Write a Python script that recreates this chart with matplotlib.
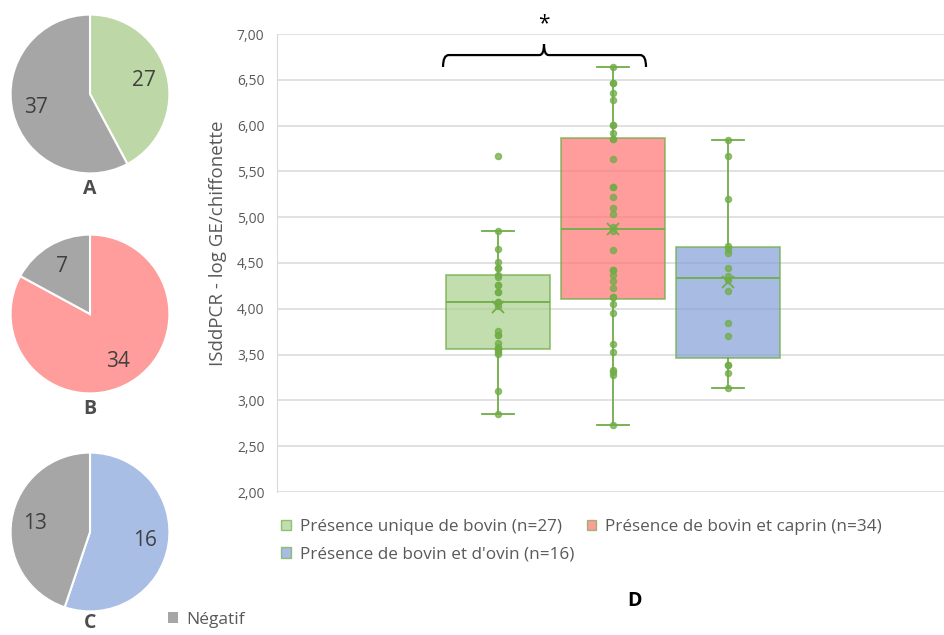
import numpy as np
import matplotlib.pyplot as plt
from matplotlib.patches import Patch, PathPatch
from matplotlib.path import Path

plt.rcParams['font.family'] = ['Open Sans', 'DejaVu Sans']

# pies A, B, C : positive count / negative count
pie_names = ['A', 'B', 'C']
pie_pos = [27, 34, 16]
pie_neg = [37, 7, 13]
pie_colors = ['#BDD8A6', '#FF9C9C', '#A9BEE5']
neg_color = '#A6A6A6'

# box plot D (log GE/chiffonette)
series_names = ['Présence unique de bovin (n=27)',
                'Présence de bovin et caprin (n=34)',
                "Présence de bovin et d'ovin (n=16)"]
bovin = [2.85, 3.10, 3.51, 3.53, 3.56, 3.56, 3.56, 3.58, 3.63, 3.71, 3.71,
         3.76, 4.03, 4.07, 4.07, 4.18, 4.18, 4.26, 4.26, 4.35, 4.37, 4.45,
         4.45, 4.51, 4.65, 4.85, 5.67]
bovin_caprin = [2.73, 3.28, 3.31, 3.33, 3.53, 3.62, 3.95, 4.05, 4.13, 4.13,
                4.23, 4.30, 4.37, 4.42, 4.42, 4.64, 4.85, 4.89, 5.04, 5.10,
                5.22, 5.33, 5.33, 5.63, 5.85, 5.85, 5.92, 6.01, 6.01, 6.28,
                6.36, 6.47, 6.47, 6.64]
bovin_ovin = [3.13, 3.30, 3.39, 3.39, 3.70, 3.84, 4.19, 4.31, 4.36, 4.45,
              4.61, 4.65, 4.69, 5.20, 5.67, 5.84]
box_colors = ['#A9D18E', '#FF7373', '#839FD8']
edge_green = '#70AD47'
yticks = [2.0, 2.5, 3.0, 3.5, 4.0, 4.5, 5.0, 5.5, 6.0, 6.5, 7.0]

W, H = 945, 635
fig = plt.figure(figsize=(W / 100, H / 100), dpi=100)
txt = '#404040'

# ---- pies
pie_centers = [(90, 94), (90, 314), (90, 532)]
for (cx, cy), name, p, n, col in zip(pie_centers, pie_names, pie_pos, pie_neg, pie_colors):
    r = 81
    ax = fig.add_axes([(cx - r) / W, 1 - (cy + r) / H, 2 * r / W, 2 * r / H])
    tot = p + n
    ax.pie([p, n], colors=[col, neg_color], startangle=90, counterclock=False,
           radius=1, autopct=lambda v, t=tot: f'{v * t / 100:.0f}', pctdistance=0.7,
           wedgeprops=dict(edgecolor='white', linewidth=1.5),
           textprops=dict(fontsize=15, color=txt))
    ax.set_xlim(-1.02, 1.02)
    ax.set_ylim(-1.02, 1.02)
    fig.text(cx / W, 1 - min(cy + r + 14, 623) / H, name, ha='center', va='center',
             fontsize=14, fontweight='bold', color='#4D4D4D')

fig.legend(handles=[Patch(facecolor=neg_color, edgecolor='none', label='Négatif')],
           loc='center left', bbox_to_anchor=(152 / W, 1 - 620 / H), frameon=False,
           fontsize=12.5, labelcolor='#595959', handlelength=0.6, handleheight=0.6,
           handletextpad=0.45)

# ---- box plot
ax = fig.add_axes([277 / W, 1 - 492 / H, (W - 277) / W, (492 - 34) / H])
data = [bovin, bovin_caprin, bovin_ovin]
positions = [1, 2, 3]
stats = []
for d in data:
    d = np.array(sorted(d))
    q1, med, q3 = np.percentile(d, [25, 50, 75], method='weibull')
    iqr = q3 - q1
    lo = d[d >= q1 - 1.5 * iqr].min()
    hi = d[d <= q3 + 1.5 * iqr].max()
    stats.append(dict(med=med, q1=q1, q3=q3, whislo=lo, whishi=hi, mean=d.mean(), fliers=[]))

bp = ax.bxp(stats, positions=positions, widths=0.905, patch_artist=True,
            showfliers=False, showmeans=False, capwidths=0.27,
            boxprops=dict(edgecolor=edge_green, linewidth=1.3),
            medianprops=dict(color=edge_green, linewidth=1.3),
            whiskerprops=dict(color=edge_green, linewidth=1.3),
            capprops=dict(color=edge_green, linewidth=1.3))
for patch, c in zip(bp['boxes'], box_colors):
    patch.set_facecolor(c)
    patch.set_alpha(0.7)
    patch.set_edgecolor(edge_green)
    patch.set_zorder(2)

for x, d, s in zip(positions, data, stats):
    ax.plot([x] * len(d), d, 'o', color=edge_green, ms=4.4, alpha=0.75, zorder=4)
    ax.plot([x], [s['mean']], 'x', color=edge_green, ms=9, mew=1.3, zorder=4)

ax.set_xlim(2 - (613 - 277) / 115, 2 + (W - 613) / 115)
ax.set_ylim(2, 7)
ax.set_yticks(yticks)
ax.set_yticklabels([f'{v:.2f}'.replace('.', ',') for v in yticks])
ax.set_xticks([])
ax.tick_params(axis='y', length=0, pad=9, labelsize=10, labelcolor='#595959')
ax.grid(axis='y', color='#D9D9D9', linewidth=1.1, zorder=0)
ax.set_axisbelow(True)
for sp in ['top', 'right', 'bottom']:
    ax.spines[sp].set_visible(False)
ax.spines['left'].set_color('#D9D9D9')
ax.set_ylabel('ISddPCR - log GE/chiffonette', fontsize=13.5, color='#595959')
ax.yaxis.set_label_coords((227 - 277) / (W - 277), (492 - 243) / (492 - 34))

# significance brace
xl, xr, xm = 0.522, 2.287, 1.40
yb, ye, yp = 6.77, 6.64, 6.89
verts = [(xl, ye), (xl, yb), (xl + 0.05, yb), (xm - 0.04, yb), (xm, yb), (xm, yp),
         (xm, yb), (xm + 0.04, yb), (xr - 0.05, yb), (xr, yb), (xr, ye)]
codes = [Path.MOVETO, Path.CURVE3, Path.CURVE3, Path.LINETO, Path.CURVE3, Path.CURVE3,
         Path.CURVE3, Path.CURVE3, Path.LINETO, Path.CURVE3, Path.CURVE3]
ax.add_patch(PathPatch(Path(verts, codes), facecolor='none', edgecolor='black',
                       linewidth=1.6, clip_on=False, zorder=5))
ax.text(xm, 7.11, '*', ha='center', va='center', fontsize=15, color='black')

# legend
handles = [Patch(facecolor=c, edgecolor=edge_green, alpha=0.7, label=lab)
           for c, lab in zip(box_colors, series_names)]
order = [0, 2, 1]
fig.legend(handles=[handles[i] for i in order], loc='upper left',
           bbox_to_anchor=(266 / W, 1 - 504 / H), ncol=2, frameon=False,
           fontsize=12.3, labelcolor='#595959', handlelength=0.55, handleheight=0.55,
           handletextpad=0.55, columnspacing=0.7, labelspacing=0.65)

fig.text(635 / W, 1 - 601 / H, 'D', ha='center', va='center', fontsize=14,
         fontweight='bold', color='black')

fig.savefig('out.png', dpi=100)
